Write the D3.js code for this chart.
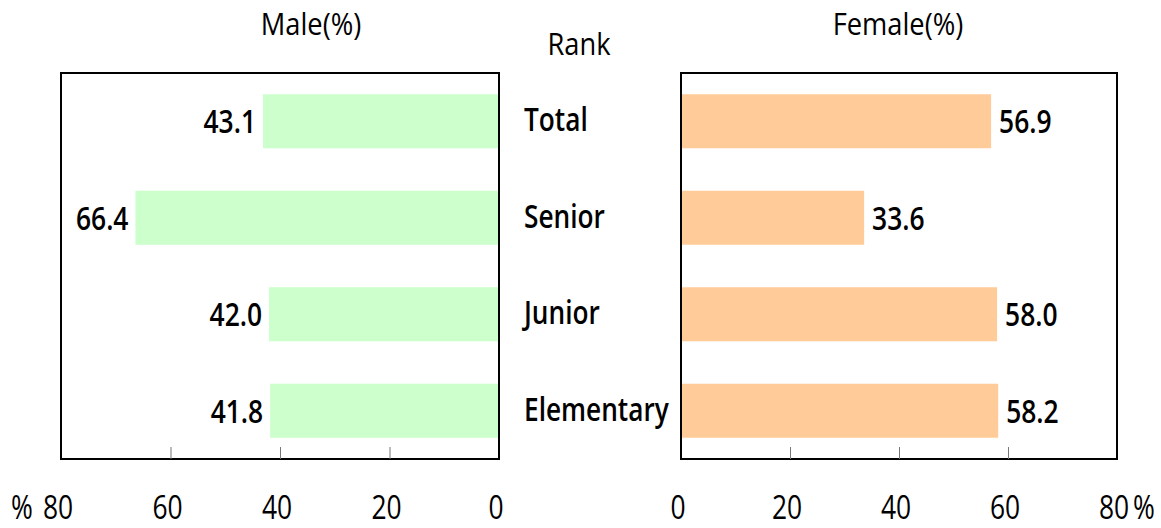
<!DOCTYPE html>
<html>
<head>
<meta charset="utf-8">
<script src="https://cdn.jsdelivr.net/npm/d3@7"></script>
<style>
  body { margin: 0; background: #fff; }
  text { font-family: "Open Sans", "Noto Sans", sans-serif; fill: #000; }
</style>
</head>
<body>
<div id="chart"></div>
<script>
// data
let ranks = ['Total', 'Senior', 'Junior', 'Elementary']
let male = [43.1, 66.4, 42.0, 41.8]
let female = [56.9, 33.6, 58.0, 58.2]
let ticks = [0, 20, 40, 60, 80]

let svg = d3.select('div#chart')
  .append('svg')
    .attr('width', 1161)
    .attr('height', 528)

let plotTop = 73, plotBottom = 459

let y = d3.scaleBand()
  .domain(ranks)
  .range([plotTop, plotBottom])
  .paddingInner(0.44)
  .paddingOuter(0.22)

let xL = d3.scaleLinear().domain([0, 80]).range([499, 61])
let xR = d3.scaleLinear().domain([0, 80]).range([681, 1117])

// condensed-looking text: squeeze horizontally
function label(x, yy, txt, size, sx, anchor, weight) {
  svg.append('g')
    .attr('transform', `translate(${x}, ${yy}) scale(${sx}, 1)`)
    .append('text')
    .attr('text-anchor', anchor || 'start')
    .attr('font-size', size)
    .attr('font-weight', weight || 400)
    .text(txt)
}

// bars
svg.append('g').selectAll('rect')
  .data(ranks)
  .enter().append('rect')
  .attr('x', (d, i) => xL(male[i]))
  .attr('y', d => y(d))
  .attr('width', (d, i) => xL(0) - xL(male[i]))
  .attr('height', y.bandwidth())
  .attr('fill', '#ccffcc')

svg.append('g').selectAll('rect')
  .data(ranks)
  .enter().append('rect')
  .attr('x', xR(0))
  .attr('y', d => y(d))
  .attr('width', (d, i) => xR(female[i]) - xR(0))
  .attr('height', y.bandwidth())
  .attr('fill', '#ffcc99')

// frames
function frame(x0, x1) {
  svg.append('path')
    .attr('d', `M ${x0},${plotBottom} V ${plotTop} H ${x1} V ${plotBottom} Z`)
    .attr('fill', 'none')
    .attr('stroke', '#000')
    .attr('stroke-width', 2)
}
frame(61, 499)
frame(681, 1117)

// axes
function axis(scale) {
  let g = svg.append('g')
    .attr('transform', `translate(0, ${plotBottom})`)
    .call(d3.axisBottom(scale).tickValues(ticks).tickSize(-12).tickFormat(''))
  g.select('.domain').remove()
  g.selectAll('.tick line').attr('stroke', '#777').attr('stroke-width', 1)
    .filter(d => d === 0 || d === 80).remove()
  ticks.forEach(t => label(scale(t) - 3, 519, t, 33, 0.8, 'middle'))
}
axis(xL)
axis(xR)

label(22, 519, '%', 33, 0.8, 'middle')
label(1144, 519, '%', 33, 0.8, 'middle')

// value labels
ranks.forEach((r, i) => {
  let cy = y(r) + y.bandwidth() / 2 + 12
  label(xL(male[i]) - 7, cy, male[i].toFixed(1), 33, 0.8, 'end', 600)
  label(xR(female[i]) + 8, cy, female[i].toFixed(1), 33, 0.8, 'start', 600)
  label(524, cy - 2, r, 32, 0.82, 'start', 600)
})

// titles
label(311, 35, 'Male(%)', 31, 0.88, 'middle')
label(898, 35, 'Female(%)', 31, 0.88, 'middle')
label(579, 55, 'Rank', 31, 0.88, 'middle')
</script>
</body>
</html>
